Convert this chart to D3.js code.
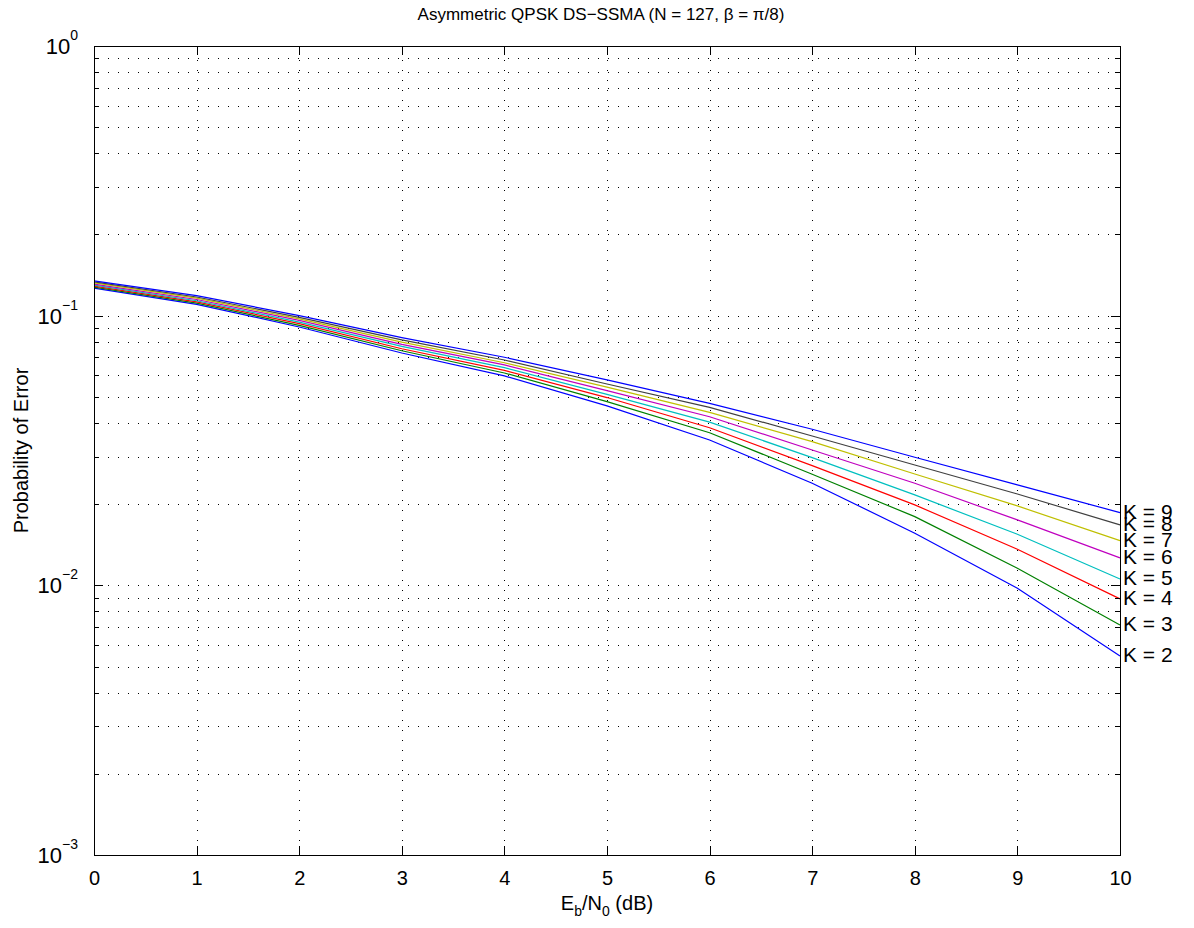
<!DOCTYPE html>
<html>
<head>
<meta charset="utf-8">
<script src="https://cdn.jsdelivr.net/npm/d3@7"></script>
<style>
  body { margin: 0; background: #fff; }
  text { font-family: "Liberation Sans", Arial, sans-serif; fill: #000; }
</style>
</head>
<body>
<script>
// Eb/N0 in dB
const ebno = [0, 1, 2, 3, 4, 5, 6, 7, 8, 9, 10];

// probability of error for each number of users K
const pe_k2 = [0.1265, 0.1102, 0.0908, 0.0727, 0.0598, 0.0463, 0.0346, 0.02391, 0.01561, 0.00975, 0.00547];
const pe_k3 = [0.1276, 0.1113, 0.0921, 0.0741, 0.0613, 0.0480, 0.0368, 0.02581, 0.01798, 0.01157, 0.00713];
const pe_k4 = [0.1287, 0.1125, 0.0934, 0.0754, 0.0627, 0.0497, 0.0384, 0.02778, 0.01987, 0.01361, 0.00891];
const pe_k5 = [0.1298, 0.1136, 0.0947, 0.0769, 0.0642, 0.0511, 0.0403, 0.02975, 0.02164, 0.01547, 0.01056];
const pe_k6 = [0.1310, 0.1148, 0.0960, 0.0783, 0.0657, 0.0527, 0.0422, 0.03177, 0.02391, 0.01748, 0.01264];
const pe_k7 = [0.1323, 0.1161, 0.0973, 0.0798, 0.0669, 0.0543, 0.0438, 0.03410, 0.02588, 0.01970, 0.01464];
const pe_k8 = [0.1335, 0.1173, 0.0986, 0.0813, 0.0685, 0.0558, 0.0457, 0.03580, 0.02795, 0.02182, 0.01675];
const pe_k9 = [0.1345, 0.1187, 0.1000, 0.0829, 0.0701, 0.0578, 0.0473, 0.03792, 0.02985, 0.02357, 0.01861];

const seriesNames = ['K = 2', 'K = 3', 'K = 4', 'K = 5', 'K = 6', 'K = 7', 'K = 8', 'K = 9'];
const seriesColors = ['#0000ff', '#008000', '#ff0000', '#00bfbf', '#bf00bf', '#bfbf00', '#404040', '#0000ff'];
const seriesValues = [pe_k2, pe_k3, pe_k4, pe_k5, pe_k6, pe_k7, pe_k8, pe_k9];

const xTicks = [0, 1, 2, 3, 4, 5, 6, 7, 8, 9, 10];
const yExponents = [0, -1, -2, -3];

const titleText = 'Asymmetric QPSK DS\u2212SSMA (N = 127, \u03b2 = \u03c0/8)';

const svgWidth = 1194;
const svgHeight = 928;
const margin = { top: 46, right: 74, bottom: 73, left: 94 };
const width = svgWidth - margin.left - margin.right;
const height = svgHeight - margin.top - margin.bottom;

const xScale = d3.scaleLinear().domain([0, 10]).range([0, width]);
const yScale = d3.scaleLog().domain([1e-3, 1]).range([height, 0]);

const svg = d3.select('body')
  .append('svg')
  .attr('width', svgWidth)
  .attr('height', svgHeight);

const chart = svg.append('g')
  .attr('transform', `translate(${margin.left}, ${margin.top})`);

// minor + major y values (log decades)
const yGridVals = [];
for (let e = -3; e < 0; e++) {
  for (let m = 1; m < 10; m++) yGridVals.push(m * Math.pow(10, e));
}
yGridVals.push(1);

// dotted grid, horizontal
chart.append('g')
  .selectAll('line')
  .data(yGridVals.filter(v => v > 1e-3 && v < 1))
  .enter().append('line')
  .attr('x1', 0)
  .attr('x2', width)
  .attr('y1', d => Math.round(yScale(d)) + 0.5)
  .attr('y2', d => Math.round(yScale(d)) + 0.5)
  .attr('stroke', '#000')
  .attr('stroke-width', 1)
  .attr('stroke-dasharray', '1,9')
  .attr('stroke-dashoffset', -4)
  .attr('shape-rendering', 'crispEdges');

// dotted grid, vertical
chart.append('g')
  .selectAll('line')
  .data(xTicks.slice(1, -1))
  .enter().append('line')
  .attr('x1', d => Math.round(xScale(d)) + 0.5)
  .attr('x2', d => Math.round(xScale(d)) + 0.5)
  .attr('y1', 0)
  .attr('y2', height)
  .attr('stroke', '#000')
  .attr('stroke-width', 1)
  .attr('stroke-dasharray', '1,9')
  .attr('stroke-dashoffset', -4)
  .attr('shape-rendering', 'crispEdges');

// curves
const line = d3.line()
  .x((d, i) => xScale(ebno[i]))
  .y(d => yScale(d));

seriesValues.forEach((vals, k) => {
  chart.append('path')
    .datum(vals)
    .attr('fill', 'none')
    .attr('stroke', seriesColors[k])
    .attr('stroke-width', 1.2)
    .attr('d', line);

  chart.append('text')
    .attr('x', xScale(ebno[ebno.length - 1]) + 3)
    .attr('y', yScale(vals[vals.length - 1]))
    .attr('dy', '0.3em')
    .attr('font-size', 21)
    .text(seriesNames[k]);
});

// box
chart.append('rect')
  .attr('x', 0.5)
  .attr('y', 0.5)
  .attr('width', width)
  .attr('height', height)
  .attr('fill', 'none')
  .attr('stroke', '#000')
  .attr('stroke-width', 1)
  .attr('shape-rendering', 'crispEdges');

// x ticks (inside, bottom and top)
const xAxisBottom = chart.append('g')
  .attr('transform', `translate(0, ${height})`)
  .call(d3.axisBottom(xScale).tickValues(xTicks).tickSize(-9).tickSizeOuter(0).tickPadding(16).tickFormat(d3.format('d')));
const xAxisTop = chart.append('g')
  .call(d3.axisTop(xScale).tickValues(xTicks).tickSize(-9).tickSizeOuter(0).tickFormat(''));

[xAxisBottom, xAxisTop].forEach(ax => {
  ax.select('.domain').remove();
  ax.selectAll('.tick line').attr('stroke', '#000').attr('shape-rendering', 'crispEdges');
});
xAxisBottom.selectAll('.tick text')
  .attr('font-family', '"Liberation Sans", Arial, sans-serif')
  .attr('font-size', 20)
  .attr('fill', '#000');

// y ticks, major and minor, left and right
const majorY = yExponents.map(e => Math.pow(10, e));
const minorY = yGridVals.filter(v => !majorY.some(m => Math.abs(m - v) < 1e-12));

function yTicks(g, vals, len, side) {
  g.selectAll(null)
    .data(vals)
    .enter().append('line')
    .attr('x1', side === 'left' ? 0 : width)
    .attr('x2', side === 'left' ? len : width - len)
    .attr('y1', d => Math.round(yScale(d)) + 0.5)
    .attr('y2', d => Math.round(yScale(d)) + 0.5)
    .attr('stroke', '#000')
    .attr('shape-rendering', 'crispEdges');
}
const yTickG = chart.append('g');
yTicks(yTickG, majorY, 9, 'left');
yTicks(yTickG, majorY, 9, 'right');
yTicks(yTickG, minorY, 5, 'left');
yTicks(yTickG, minorY, 5, 'right');

// y tick labels 10^n
const yLabels = chart.append('g')
  .selectAll('text')
  .data(yExponents)
  .enter().append('text')
  .attr('x', -16)
  .attr('y', d => yScale(Math.pow(10, d)) + 8)
  .attr('text-anchor', 'end')
  .attr('font-size', 22);
yLabels.append('tspan').text('10');
yLabels.append('tspan')
  .attr('dy', -14)
  .attr('font-size', 14)
  .text(d => d === 0 ? '0' : '\u2212' + Math.abs(d));

// title
svg.append('text')
  .attr('x', margin.left + width / 2 - 6)
  .attr('y', 20)
  .attr('text-anchor', 'middle')
  .attr('font-size', 17)
  .text(titleText);

// x label: E_b/N_0 (dB)
const xLabel = svg.append('text')
  .attr('x', margin.left + width / 2)
  .attr('y', margin.top + height + 55)
  .attr('text-anchor', 'middle')
  .attr('font-size', 20);
xLabel.append('tspan').text('E');
xLabel.append('tspan').attr('dy', 6).attr('font-size', 14).text('b');
xLabel.append('tspan').attr('dy', -6).text('/N');
xLabel.append('tspan').attr('dy', 6).attr('font-size', 14).text('0');
xLabel.append('tspan').attr('dy', -6).text(' (dB)');

// y label
svg.append('text')
  .attr('transform', `translate(28, ${margin.top + height / 2}) rotate(-90)`)
  .attr('text-anchor', 'middle')
  .attr('font-size', 20)
  .text('Probability of Error');
</script>
</body>
</html>
